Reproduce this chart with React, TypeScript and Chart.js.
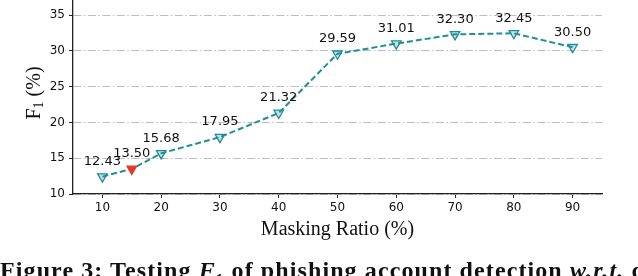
import React, { useEffect, useRef } from "react";
import { Chart, registerables } from "chart.js";

Chart.register(...registerables);

const maskingRatios = [10, 15, 20, 30, 40, 50, 60, 70, 80, 90];
const f1Values = [12.43, 13.5, 15.68, 17.95, 21.32, 29.59, 31.01, 32.3, 32.45, 30.5];
const highlightRatio = 15;
const yTicks = [10, 15, 20, 25, 30, 35];
const xTicks = [10, 20, 30, 40, 50, 60, 70, 80, 90];
const xTitle = "Masking Ratio (%)";

const TEAL = "#1f8e99";
const RED = "#e4392c";

const labelPlugin = {
  id: "valueLabels",
  afterDatasetsDraw(chart: any) {
    const ctx = chart.ctx;
    const meta = chart.getDatasetMeta(0);
    ctx.save();
    ctx.font = "13px 'DejaVu Sans'";
    ctx.fillStyle = "#111";
    ctx.textAlign = "center";
    ctx.textBaseline = "middle";
    meta.data.forEach((pt: any, i: number) => {
      ctx.fillText(f1Values[i].toFixed(2), pt.x, pt.y - 15);
    });
    ctx.restore();
  },
};

const yTitlePlugin = {
  id: "yTitle",
  afterDraw(chart: any) {
    const ctx = chart.ctx;
    const area = chart.chartArea;
    ctx.save();
    ctx.translate(33, (area.top + area.bottom) / 2 - 4);
    ctx.rotate(-Math.PI / 2);
    ctx.fillStyle = "#111";
    ctx.textBaseline = "alphabetic";
    const big = "20px 'Liberation Serif'";
    const small = "14px 'Liberation Serif'";
    ctx.font = big;
    const wF = ctx.measureText("F").width;
    const wRest = ctx.measureText(" (%)").width;
    ctx.font = small;
    const w1 = ctx.measureText("1").width;
    const total = wF + w1 + wRest;
    let x = -total / 2;
    const base = 7;
    ctx.font = big;
    ctx.fillText("F", x, base);
    x += wF;
    ctx.font = small;
    ctx.fillText("1", x, base + 3);
    x += w1;
    ctx.font = big;
    ctx.fillText(" (%)", x, base);
    ctx.restore();
  },
};

export default function App() {
  const ref = useRef<HTMLCanvasElement | null>(null);
  useEffect(() => {
    if (!ref.current) return;
    const data = maskingRatios.map((x, i) => ({ x, y: f1Values[i] }));
    const chart = new Chart(ref.current, {
      type: "line",
      data: {
        datasets: [
          {
            data,
            borderColor: TEAL,
            borderWidth: 2,
            borderDash: [6, 3],
            fill: false,
            tension: 0,
            pointStyle: "triangle",
            rotation: 180,
            pointRadius: 5.5,
            pointBorderWidth: 1.3,
            pointBackgroundColor: maskingRatios.map((x) =>
              x === highlightRatio ? RED : "rgba(31,142,153,0.25)"
            ),
            pointBorderColor: maskingRatios.map((x) => (x === highlightRatio ? RED : TEAL)),
          },
        ],
      },
      options: {
        animation: false,
        responsive: false,
        maintainAspectRatio: false,
        layout: { autoPadding: false, padding: { top: 0, right: 36, bottom: 0, left: 0 } },
        plugins: { legend: { display: false }, tooltip: { enabled: false } },
        scales: {
          x: {
            type: "linear",
            min: 5,
            max: 95,
            afterBuildTicks: (s: any) => {
              s.ticks = xTicks.map((v) => ({ value: v }));
            },
            afterFit: (s: any) => {
              s.height = 82;
              s.paddingLeft = 0;
              s.paddingRight = 0;
            },
            ticks: {
              font: { family: "DejaVu Sans", size: 12 },
              color: "#111",
              padding: 3,
              maxRotation: 0,
            },
            grid: {
              drawOnChartArea: false,
              drawTicks: true,
              tickLength: 4,
              tickColor: "#222",
            },
            border: { color: "#222", width: 1.3 },
            title: {
              display: true,
              text: xTitle,
              font: { family: "Liberation Serif", size: 20 },
              color: "#111",
              padding: { top: 0, bottom: 34 },
            },
          },
          y: {
            type: "linear",
            min: 10,
            max: 37.1,
            afterBuildTicks: (s: any) => {
              s.ticks = yTicks.map((v) => ({ value: v }));
            },
            afterFit: (s: any) => {
              s.width = 73;
              s.paddingTop = 0;
              s.paddingBottom = 0;
            },
            ticks: {
              font: { family: "DejaVu Sans", size: 12 },
              color: "#111",
              padding: 4,
            },
            grid: {
              color: "#bdbdbd",
              lineWidth: 1,
              tickLength: 4,
              tickColor: "#222",
              tickBorderDash: [],
              tickWidth: 1,
            },
            border: { color: "#222", width: 1.3, dash: [8, 2.5, 1.5, 2.5] },
          },
        },
      },
      plugins: [labelPlugin, yTitlePlugin],
    } as any);
    return () => chart.destroy();
  }, []);

  return (
    <div
      style={{
        position: "fixed",
        left: 0,
        top: 0,
        width: 638,
        height: 276,
        overflow: "hidden",
        background: "#fff",
      }}
    >
      <canvas ref={ref} width={638} height={276} style={{ position: "absolute", left: 0, top: 0 }} />
      <div
        style={{
          position: "absolute",
          left: 0,
          top: 257,
          whiteSpace: "nowrap",
          fontFamily: "'Liberation Serif', serif",
          fontWeight: "bold",
          fontSize: 24,
          letterSpacing: "1.1px",
          lineHeight: "26px",
          color: "#111",
        }}
      >
        Figure 3: Testing <i>F</i>
        <sub style={{ fontSize: 15, lineHeight: 0 }}>1</sub> of phishing account detection <i>w.r.t.</i> different masking ratios
      </div>
    </div>
  );
}
